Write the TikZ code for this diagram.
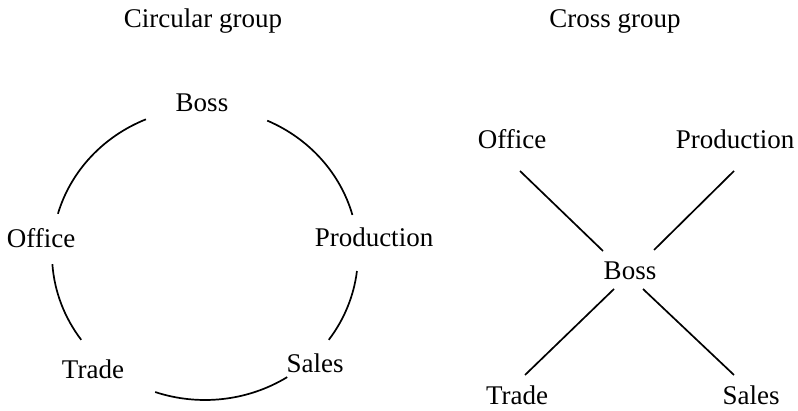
\documentclass[tikz,border=0pt]{standalone}
\usepackage{fontspec}
\setmainfont{Liberation Serif}
\begin{document}
\begin{tikzpicture}[x=1pt,y=1pt,
  lbl/.style={font=\fontsize{27}{30}\selectfont, anchor=base, inner sep=0pt},
  ttl/.style={font=\fontsize{27}{30}\selectfont, anchor=base, inner sep=0pt},
  link/.style={line width=1.7pt}]
\useasboundingbox (0,0) rectangle (798,411);
% titles
\node[ttl] (t1) at (203,383) {Circular group};
\node[ttl] (t2) at (615,383) {Cross group};
% circular group
\coordinate (cc) at (205,157);
\node[lbl] (cboss) at (202,299) {Boss};
\node[lbl] (coffice) at (41,163) {Office};
\node[lbl] (cprod) at (374,164) {Production};
\node[lbl] (ctrade) at (93,32) {Trade};
\node[lbl] (csales) at (315,38) {Sales};
\draw[link] (cc) ++(112.7:153 and 146) arc[start angle=112.7, end angle=164, x radius=153, y radius=146];
\draw[link] (cc) ++(66:153 and 146) arc[start angle=66, end angle=15.5, x radius=153, y radius=146];
\draw[link] (cc) ++(184:153 and 146) arc[start angle=184, end angle=216, x radius=153, y radius=146];
\draw[link] (cc) ++(-6.7:153 and 146) arc[start angle=-6.7, end angle=-36, x radius=153, y radius=146];
\draw[link] (cc) ++(-109:153 and 146) arc[start angle=-109, end angle=-57.5, x radius=153, y radius=146];
% cross group
\node[lbl] (xoffice) at (512,262) {Office};
\node[lbl] (xprod) at (735,262) {Production};
\node[lbl] (xboss) at (630,131) {Boss};
\node[lbl] (xtrade) at (517,6) {Trade};
\node[lbl] (xsales) at (751,6) {Sales};
\coordinate (o1) at (520,240);
\coordinate (o2) at (603,160);
\coordinate (p1) at (734,240);
\coordinate (p2) at (654,161);
\coordinate (r1) at (614,122);
\coordinate (r2) at (525,36);
\coordinate (s1) at (643,122);
\coordinate (s2) at (734,36);
\draw[link] (o1) -- (o2);
\draw[link] (p1) -- (p2);
\draw[link] (r1) -- (r2);
\draw[link] (s1) -- (s2);
\end{tikzpicture}
\end{document}
